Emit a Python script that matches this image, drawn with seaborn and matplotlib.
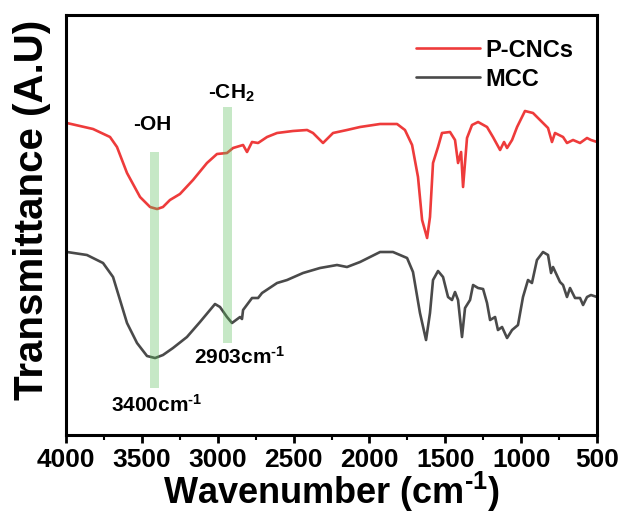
import pandas as pd
import seaborn as sns
import matplotlib.pyplot as plt
from matplotlib.ticker import MultipleLocator

# wavenumbers (cm-1) and transmittance (arbitrary units)
pcnc_wn = [3995, 3822, 3710, 3664, 3598, 3512, 3446, 3400, 3361, 3315, 3249, 3163,
           3071, 3005, 2939, 2899, 2833, 2807, 2774, 2734, 2675, 2609, 2504, 2411,
           2372, 2306, 2240, 2148, 2062, 1930, 1818, 1766, 1719, 1680, 1653, 1620,
           1601, 1581, 1548, 1522, 1469, 1436, 1416, 1396, 1383, 1357, 1324, 1284,
           1225, 1186, 1139, 1113, 1093, 1060, 1027, 975, 922, 856, 823, 797, 777,
           724, 698, 658, 612, 566, 540, 500]
pcnc_t = [312, 306, 298, 288, 262, 238, 228, 226, 228, 235, 241, 255,
          272, 281, 282, 287, 290, 283, 293, 292, 298, 302, 304, 305,
          302, 292, 302, 305, 308, 311, 311, 305, 290, 258, 215, 197,
          218, 272, 288, 302, 303, 295, 272, 283, 248, 297, 310, 313,
          308, 298, 285, 293, 287, 295, 308, 324, 322, 312, 307, 293, 302,
          298, 292, 295, 292, 297, 295, 293]

mcc_wn = [3993, 3862, 3756, 3690, 3644, 3598, 3532, 3466, 3413, 3361, 3295, 3203,
          3117, 3018, 2985, 2939, 2906, 2853, 2840, 2833, 2774, 2734, 2708, 2609,
          2543, 2438, 2326, 2214, 2148, 2062, 1930, 1845, 1752, 1713, 1667, 1627,
          1601, 1581, 1548, 1515, 1482, 1456, 1436, 1416, 1390, 1370, 1337, 1317,
          1284, 1251, 1225, 1205, 1172, 1153, 1126, 1093, 1060, 1021, 988, 955,
          929, 896, 856, 823, 803, 790, 744, 724, 698, 678, 645, 612, 592, 566,
          540, 500]
mcc_t = [183, 180, 172, 158, 135, 112, 92, 79, 77, 80, 87, 98,
         113, 131, 128, 118, 112, 118, 116, 125, 137, 137, 142, 152,
         155, 162, 167, 170, 168, 173, 183, 183, 177, 163, 122, 95,
         122, 155, 164, 158, 138, 135, 143, 135, 98, 127, 135, 150,
         147, 146, 132, 115, 118, 105, 108, 97, 105, 110, 138, 155,
         152, 175, 183, 180, 162, 168, 153, 150, 138, 147, 137, 137, 130, 138,
         140, 138]

df = pd.concat([
    pd.DataFrame({'wn': pcnc_wn, 't': pcnc_t, 'sample': 'P-CNCs'}),
    pd.DataFrame({'wn': mcc_wn, 't': mcc_t, 'sample': 'MCC'}),
])

sns.set_style('ticks')
plt.rcParams['font.family'] = ['Liberation Sans', 'DejaVu Sans']
plt.rcParams.update({
    'font.weight': 'bold', 'axes.labelweight': 'bold',
    'text.color': 'black', 'axes.labelcolor': 'black', 'axes.edgecolor': 'black',
    'xtick.color': 'black', 'ytick.color': 'black',
    'mathtext.fontset': 'custom', 'mathtext.rm': 'Liberation Sans:bold',
    'mathtext.bf': 'Liberation Sans:bold', 'mathtext.default': 'bf',
})

fig = plt.figure(figsize=(6.21, 5.15), dpi=100)
ax = fig.add_axes([0.1063, 0.1553, 0.8551, 0.8156])

sns.lineplot(data=df, x='wn', y='t', hue='sample', sort=False,
             palette={'P-CNCs': '#EE3B3B', 'MCC': '#4a4a4a'},
             linewidth=1.9, ax=ax)

# highlighted bands
ax.fill_betweenx([47, 283], 3446, 3387, color='#5cbf5c', alpha=0.35, lw=0, zorder=3)
ax.fill_betweenx([92, 328], 2965, 2906, color='#5cbf5c', alpha=0.35, lw=0, zorder=3)

sup = '$^{\\text{-1}}$'
ax.text(3433, 310, '-OH', ha='center', va='center', fontsize=15, fontweight='bold')
ax.text(2912, 342, '-CH$_{\\text{2}}$', ha='center', va='center', fontsize=15, fontweight='bold')
ax.text(3400, 30, '3400cm' + sup, ha='center', va='center', fontsize=15, fontweight='bold')
ax.text(2853, 78, '2903cm' + sup, ha='center', va='center', fontsize=15, fontweight='bold')

ax.set_xlim(4000, 500)
ax.set_ylim(0, 420)
ax.xaxis.set_major_locator(MultipleLocator(500))
ax.xaxis.set_minor_locator(MultipleLocator(250))
ax.set_yticks([])
ax.tick_params(axis='x', which='major', direction='out', length=6, width=2,
               labelsize=19, pad=3)
ax.tick_params(axis='x', which='minor', direction='out', length=3.5, width=1.5)
for lbl in ax.get_xticklabels():
    lbl.set_fontweight('bold')
for sp in ax.spines.values():
    sp.set_visible(True)
    sp.set_linewidth(2.2)

ax.set_xlabel('Wavenumber (cm' + sup + ')', fontsize=26, fontweight='bold', labelpad=-1)
ax.set_ylabel('Transmittance (A.U)', fontsize=29, fontweight='bold')
ax.yaxis.set_label_coords(-0.028, 0.536)

leg = ax.legend(loc='upper right', frameon=False, fontsize=17, handlelength=2.7,
                handletextpad=0.25, borderaxespad=0.6, labelspacing=0.25)
for t in leg.get_texts():
    t.set_fontweight('bold')

fig.savefig('out.png', dpi=100)
